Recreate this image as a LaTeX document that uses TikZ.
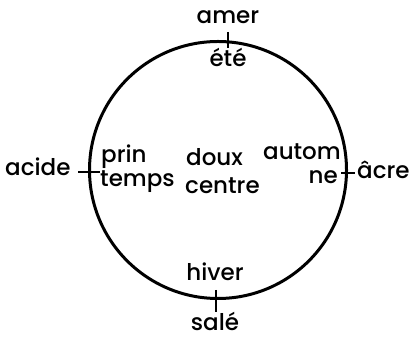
\documentclass[tikz,border=0pt]{standalone}
\usepackage{fontspec}
\setmainfont{Poppins Medium}
\begin{document}
\begin{tikzpicture}[x=1pt,y=1pt,
  lbl/.style={inner sep=0pt,font=\fontsize{23}{25}\selectfont},
  ring/.style={line width=3pt},
  tick/.style={line width=1.6pt}]
\useasboundingbox (0,0) rectangle (414,339);
\node[ring,draw,circle,minimum size=257pt,inner sep=0pt] (c) at (218,169) {};
% ticks
\coordinate (t1) at (228,307); \coordinate (t2) at (228,291);
\coordinate (b1) at (216,49);  \coordinate (b2) at (216,27);
\coordinate (l1) at (78,167);  \coordinate (l2) at (100,167);
\coordinate (r1) at (341,166); \coordinate (r2) at (355,166);
\draw[tick] (t1) -- (t2);
\draw[tick] (b1) -- (b2);
\draw[tick] (l1) -- (l2);
\draw[tick] (r1) -- (r2);
% labels
\node[lbl,anchor=base] (amer) at (228,315) {amer};
\node[lbl,anchor=base] (ete) at (228,272) {été};
\node[lbl,anchor=base west] (acide) at (5,163) {acide};
\node[lbl,anchor=base west] (prin) at (101,176) {prin};
\node[lbl,anchor=base west] (temps) at (100,152) {temps};
\node[lbl,anchor=base west] (doux) at (186,173) {doux};
\node[lbl,anchor=base west] (centre) at (185,145) {centre};
\node[lbl,anchor=base east] (autom) at (341,179) {autom};
\node[lbl,anchor=base east] (ne) at (338,155) {ne};
\node[lbl,anchor=base west] (acre) at (357,160) {âcre};
\node[lbl,anchor=base] (hiver) at (215,58) {hiver};
\node[lbl,anchor=base] (sale) at (215,8) {salé};
\end{tikzpicture}
\end{document}
